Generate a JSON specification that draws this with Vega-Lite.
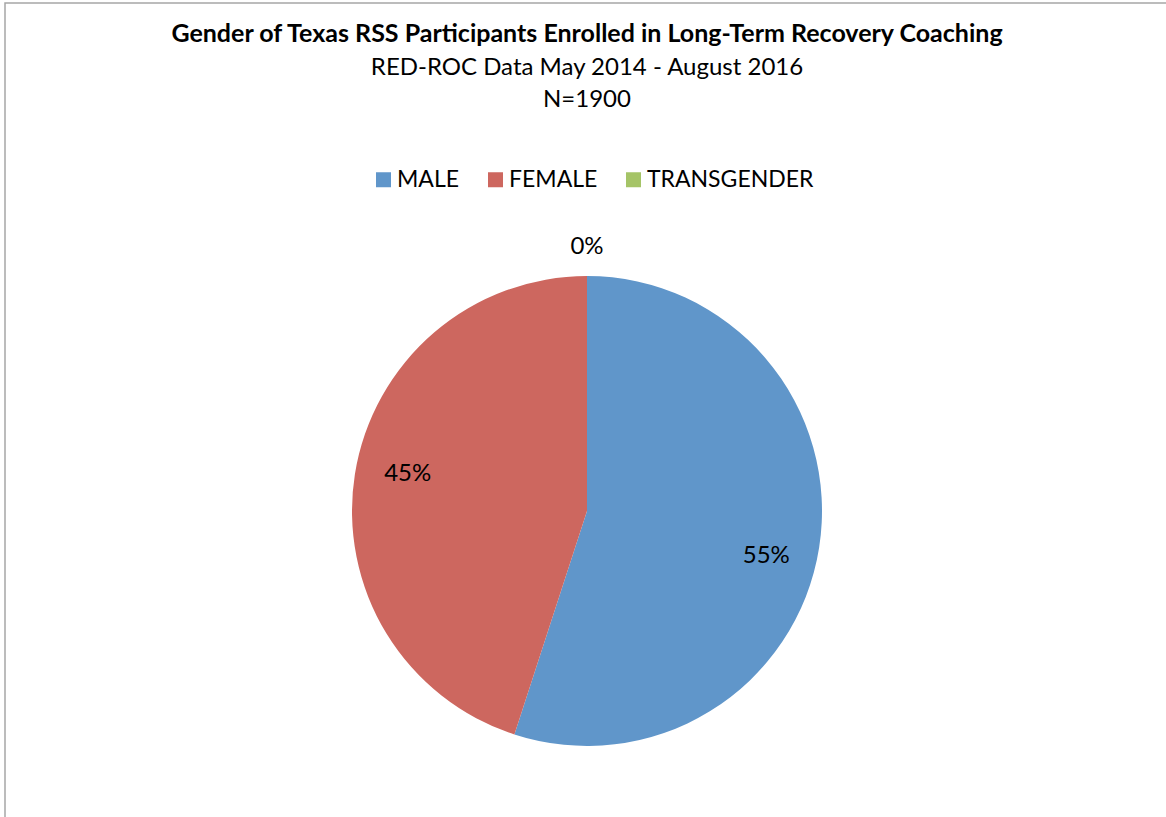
{
  "$schema": "https://vega.github.io/schema/vega-lite/v6.json",
  "autosize": {"type": "none"},
  "padding": {"left": 5, "top": 3, "right": 0, "bottom": 0},
  "width": 1164,
  "height": 1016,
  "background": "white",
  "view": {"stroke": "#a6a6a6", "strokeWidth": 1.5, "fill": "white"},
  "config": {
    "font": "Lato"
  },
  "title": {
    "text": "Gender of Texas RSS Participants Enrolled in Long-Term Recovery Coaching",
    "subtitle": ["RED-ROC Data May 2014 - August 2016", "N=1900"],
    "anchor": "middle",
    "frame": "group",
    "offset": -109,
    "font": "Lato",
    "fontSize": 25,
    "fontWeight": "bold",
    "color": "black",
    "subtitleFont": "Lato",
    "subtitleFontSize": 24,
    "subtitleColor": "black",
    "subtitleLineHeight": 32,
    "subtitlePadding": 9
  },
  "data": {
    "values": [
      {"gender": "MALE", "count": 1045, "label": "55%", "ord": 1},
      {"gender": "FEMALE", "count": 855, "label": "45%", "ord": 2},
      {"gender": "TRANSGENDER", "count": 0, "label": "0%", "ord": 3}
    ]
  },
  "encoding": {
    "theta": {"field": "count", "type": "quantitative", "stack": true},
    "order": {"field": "ord", "type": "quantitative"}
  },
  "layer": [
    {
      "mark": {"type": "arc", "outerRadius": 235},
      "encoding": {
        "color": {
          "field": "gender",
          "type": "nominal",
          "scale": {"domain": ["MALE", "FEMALE", "TRANSGENDER"], "range": ["#6096CA", "#CD675F", "#A5C467"]},
          "legend": {
            "title": null,
            "orient": "none",
            "legendX": 367,
            "legendY": 165,
            "direction": "horizontal",
            "symbolType": "square",
            "symbolSize": 225,
            "symbolStrokeWidth": 0,
            "labelFontSize": 23,
            "labelFont": "Lato",
            "labelColor": "black",
            "labelOffset": 2,
            "labelLimit": 0,
            "columnPadding": 24
          }
        }
      }
    },
    {
      "mark": {"type": "text", "radius": 184, "thetaOffset": 0.07, "dy": 4, "fontSize": 24, "font": "Lato", "color": "black"},
      "encoding": {
        "text": {"condition": {"test": "datum.gender === 'TRANSGENDER'", "value": ""}, "field": "label"}
      }
    },
    {
      "mark": {"type": "text", "radius": 264, "fontSize": 24, "font": "Lato", "color": "black"},
      "encoding": {
        "text": {"condition": {"test": "datum.gender !== 'TRANSGENDER'", "value": ""}, "field": "label"}
      }
    }
  ]
}
